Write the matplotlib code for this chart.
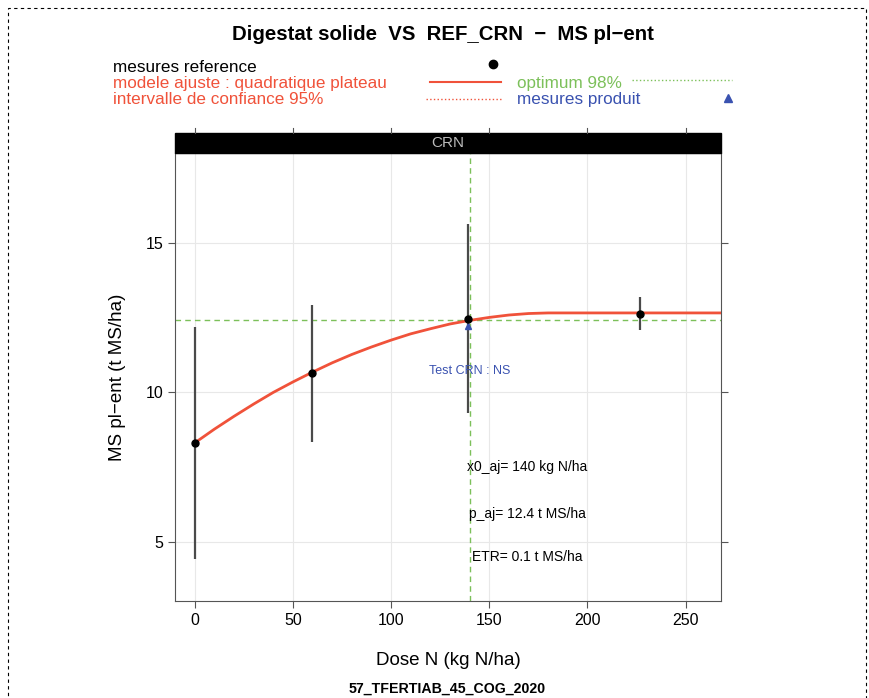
import numpy as np
import matplotlib.pyplot as plt
from matplotlib.patches import Rectangle
from matplotlib.lines import Line2D

plt.rcParams['font.family'] = ['Liberation Sans', 'DejaVu Sans']

# mesures reference
dose = [0, 60, 139, 227]
ms = [8.3, 10.64, 12.45, 12.63]
ms_low = [4.43, 8.32, 9.3, 12.08]
ms_high = [12.18, 12.92, 15.64, 13.19]

# mesures produit
dose_prod = [139]
ms_prod = [12.22]

# modele ajuste
fit_x = [0, 10, 20, 30, 40, 50, 60, 70, 80, 90, 100, 110, 120, 130, 140,
         150, 160, 170, 180, 200, 268]
fit_y = [8.30, 8.76, 9.19, 9.60, 9.99, 10.34, 10.67, 10.98, 11.26, 11.51, 11.74,
         11.95, 12.12, 12.28, 12.40, 12.50, 12.58, 12.63, 12.65, 12.65, 12.65]

x0_aj = 140
p_aj = 12.4

red = '#f0523a'
green = '#7cc05a'
blue = '#3a52b0'

fig = plt.figure(figsize=(8.69, 6.98), dpi=100)
ax = fig.add_axes([0.2014, 0.1384, 0.6283, 0.6424])

ax.grid(True, color='#e8e8e8', lw=0.8)
ax.set_axisbelow(True)

ax.axvline(x0_aj, color=green, ls=(0, (4, 3)), lw=1)
ax.axhline(p_aj, color=green, ls=(0, (4, 3)), lw=1)

ax.vlines(dose, ms_low, ms_high, color='#4a4a4a', lw=1.6, zorder=3)
ax.plot(fit_x, fit_y, color=red, lw=2, zorder=4)
ax.plot(dose, ms, 'o', color='black', ms=5, zorder=5)
ax.plot(dose_prod, ms_prod, '^', color=blue, ms=5, zorder=4)

ax.text(140, 10.7, 'Test CRN : NS', color=blue, fontsize=9, ha='center', va='center')
ax.text(169.5, 7.48, 'x0_aj= 140 kg N/ha', fontsize=10, ha='center', va='center')
ax.text(169.5, 5.94, 'p_aj= 12.4 t MS/ha', fontsize=10, ha='center', va='center')
ax.text(169.5, 4.5, 'ETR= 0.1 t MS/ha', fontsize=10, ha='center', va='center')

ax.set_xlim(-10, 268)
ax.set_ylim(3, 18)
ax.set_xticks([0, 50, 100, 150, 200, 250])
ax.set_yticks([5, 10, 15])
ax.tick_params(direction='out', length=5, color='#555555', labelsize=11.5,
               top=False, right=True, labeltop=False, labelright=False)
for s in ax.spines.values():
    s.set_color('#555555')
ax.set_xlabel('Dose N (kg N/ha)', fontsize=13.5, labelpad=17)
ax.set_ylabel('MS pl\u2212ent (t MS/ha)', fontsize=13.5, labelpad=14)

# strip
fig.add_artist(Rectangle((0.2014, 0.7808), 0.6283, 0.0287, transform=fig.transFigure,
                         facecolor='black', edgecolor='black'))
fig.text(0.5156, 0.7951, 'CRN', color='#bbbbbb', fontsize=11, ha='center', va='center')
# graduations en haut, au-dessus du bandeau
for xt in [0, 50, 100, 150, 200, 250]:
    xf = 0.2014 + 0.6283 * (xt + 10) / 278
    fig.add_artist(Line2D([xf, xf], [0.8095, 0.8167], transform=fig.transFigure,
                          color='#555555', lw=0.8))

fig.text(0.51, 0.95, 'Digestat solide  VS  REF_CRN  \u2212  MS pl\u2212ent',
         fontsize=14.7, fontweight='bold', ha='center', va='center')

# legende
fig.text(0.130, 0.904, 'mesures reference', fontsize=12.3, color='black', va='center')
fig.text(0.130, 0.881, 'modele ajuste : quadratique plateau', fontsize=12.3, color=red, va='center')
fig.text(0.130, 0.857, 'intervalle de confiance 95%', fontsize=12.3, color=red, va='center')
fig.text(0.595, 0.881, 'optimum 98%', fontsize=12.3, color=green, va='center')
fig.text(0.595, 0.857, 'mesures produit', fontsize=12.3, color=blue, va='center')
fig.add_artist(Line2D([0.567], [0.908], marker='o', color='black', ms=6, transform=fig.transFigure))
fig.add_artist(Line2D([0.495, 0.576], [0.883, 0.883], color=red, lw=1.5, transform=fig.transFigure))
fig.add_artist(Line2D([0.490, 0.576], [0.858, 0.858], color=red, lw=1, ls=':', transform=fig.transFigure))
fig.add_artist(Line2D([0.727, 0.842], [0.885, 0.885], color=green, lw=1, ls=':', transform=fig.transFigure))
fig.add_artist(Line2D([0.838], [0.860], marker='^', color=blue, ms=6, transform=fig.transFigure))

fig.text(0.514, 0.014, '57_TFERTIAB_45_COG_2020', fontsize=10.2, fontweight='bold',
         ha='center', va='center')

# cadre pointille
fig.add_artist(Rectangle((0.009, -0.05), 0.988, 1.038, transform=fig.transFigure,
                         fill=False, edgecolor='black', lw=0.8, ls=(0, (3, 3))))

fig.savefig('out.png', dpi=100)
